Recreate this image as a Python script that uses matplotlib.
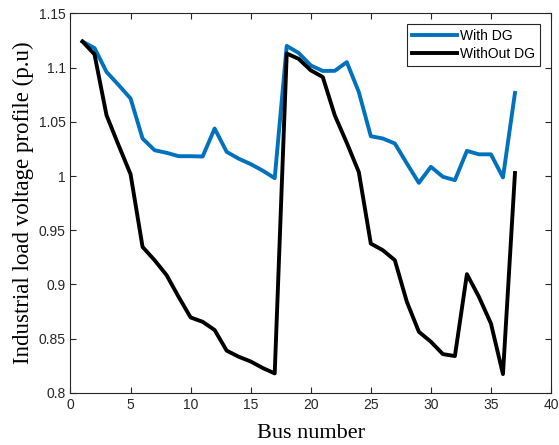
import matplotlib
matplotlib.use("Agg")
import matplotlib.pyplot as plt
import numpy as np

bus = list(range(1, 38))
with_dg = [1.124, 1.118, 1.096, 1.084, 1.0715, 1.0346, 1.0238, 1.0214, 1.0183, 1.0183,
           1.018, 1.0438, 1.0223, 1.016, 1.011, 1.005, 0.998,
           1.120, 1.1134, 1.102, 1.0969, 1.097, 1.105, 1.0775, 1.0367, 1.0346, 1.030,
           1.0116, 0.9937, 1.0085, 0.9993, 0.9962, 1.0232, 1.020, 1.020, 0.9987, 1.0766]
without_dg = [1.124, 1.1122, 1.056, 1.0285, 1.0017, 0.9346, 0.9224, 0.9086, 0.8886, 0.8696,
              0.8656, 0.858, 0.839, 0.8334, 0.829, 0.823, 0.818,
              1.113, 1.108, 1.0975, 1.0913, 1.056, 1.0306, 1.0037, 0.9377, 0.9316, 0.9224,
              0.884, 0.8564, 0.8472, 0.8358, 0.834, 0.9095, 0.8886, 0.864, 0.8174, 1.0028]

xticks = [0, 5, 10, 15, 20, 25, 30, 35, 40]
yticks = [0.8, 0.85, 0.9, 0.95, 1.0, 1.05, 1.1, 1.15]
yticklabels = ["0.8", "0.85", "0.9", "0.95", "1", "1.05", "1.1", "1.15"]

fig = plt.figure(figsize=(5.59, 4.45), dpi=100)
ax = fig.add_axes([0.1261, 0.117, 0.8596, 0.853])

ax.plot(bus, with_dg, color="#0072BD", lw=2.8, label="With DG")
ax.plot(bus, without_dg, color="black", lw=2.8, label="WithOut DG")

ax.set_xlim(0, 40)
ax.set_ylim(0.8, 1.15)
ax.set_xticks(xticks)
ax.set_yticks(yticks)
ax.set_yticklabels(yticklabels)
for lab in ax.get_xticklabels() + ax.get_yticklabels():
    lab.set_fontfamily("Liberation Sans")
    lab.set_fontsize(10)
    lab.set_color("#262626")
ax.tick_params(direction="in", length=4, width=0.8, colors="#262626", top=True, right=True,
               labelcolor="#262626")
for s in ax.spines.values():
    s.set_color("#262626")
    s.set_linewidth(0.8)

ax.set_xlabel("Bus number", family="Liberation Serif", fontsize=16, labelpad=9)
ax.set_ylabel("Industrial load voltage profile (p.u)", family="Liberation Serif", fontsize=16.5, labelpad=3)

leg = ax.legend(loc="upper right", prop={"family": "Liberation Sans", "size": 10},
                handlelength=3.2, fancybox=False, edgecolor="#262626", framealpha=1,
                borderaxespad=0.8, borderpad=0.35, labelspacing=0.25, handletextpad=0.25)
leg.get_frame().set_linewidth(0.8)

fig.savefig("out.png", dpi=100)
